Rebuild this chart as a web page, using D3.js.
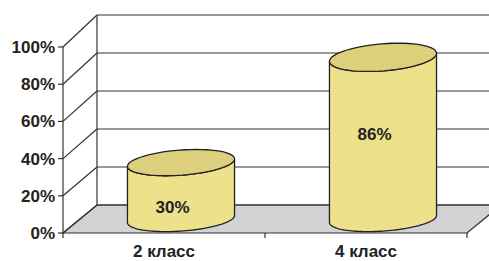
<!DOCTYPE html>
<html>
<head>
<meta charset="utf-8">
<script src="https://cdn.jsdelivr.net/npm/d3@7"></script>
<style>
  body { margin: 0; background: #fff; }
  text { font-family: Arial, "Liberation Sans", sans-serif; font-weight: bold; fill: #222; }
</style>
</head>
<body>
<div id="chart"></div>
<script>
// data
var categories = ["2 класс", "4 класс"];
var values = [30, 86];
var valueLabels = ["30%", "86%"];
var tickValues = [0, 20, 40, 60, 80, 100];
var tickLabels = ["0%", "20%", "40%", "60%", "80%", "100%"];

function init() {
    var w = 489;
    var h = 261;

    // depth offset of the back wall
    var depthX = 34;

    var scaleX = d3.scaleBand()
        .domain(categories)
        .range([63, 467]);

    var yFront = d3.scaleLinear().domain([0, 100]).range([233, 47]);
    var yBack = d3.scaleLinear().domain([0, 100]).range([205, 15]);

    // project a point: x on front plane, value, depth z (0 front .. 1 back)
    function px(x, z) { return x + z * depthX; }
    function py(v, z) { return yFront(v) * (1 - z) + yBack(v) * z; }

    var svg = d3.select("#chart")
        .append("svg")
        .attr("width", w)
        .attr("height", h);

    var line = "#333";

    // floor
    var x0 = scaleX.range()[0], x1 = scaleX.range()[1];
    svg.append("path")
        .attr("d", "M" + px(x0, 0) + "," + py(0, 0) +
            "L" + px(x1, 0) + "," + py(0, 0) +
            "L" + px(x1, 1) + "," + py(0, 1) +
            "L" + px(x0, 1) + "," + py(0, 1) + "Z")
        .attr("fill", "#d3d3d5")
        .attr("stroke", line)
        .attr("stroke-width", 1.2);

    // back wall gridlines
    svg.selectAll("line.grid")
        .data(tickValues)
        .enter()
        .append("line")
        .attr("class", "grid")
        .attr("x1", px(x0, 1))
        .attr("x2", px(x1, 1))
        .attr("y1", function (d) { return py(d, 1); })
        .attr("y2", function (d) { return py(d, 1); })
        .attr("stroke", line)
        .attr("stroke-width", 1.2);

    // side wall diagonals
    svg.selectAll("line.diag")
        .data(tickValues)
        .enter()
        .append("line")
        .attr("class", "diag")
        .attr("x1", px(x0, 0))
        .attr("x2", px(x0, 1))
        .attr("y1", function (d) { return py(d, 0); })
        .attr("y2", function (d) { return py(d, 1); })
        .attr("stroke", line)
        .attr("stroke-width", 1.2);

    // back wall left edge
    svg.append("line")
        .attr("x1", px(x0, 1)).attr("x2", px(x0, 1))
        .attr("y1", py(0, 1)).attr("y2", py(100, 1))
        .attr("stroke", line).attr("stroke-width", 1.2);

    // front value axis
    svg.append("line")
        .attr("x1", x0).attr("x2", x0)
        .attr("y1", yFront(0)).attr("y2", yFront(100))
        .attr("stroke", line).attr("stroke-width", 1.2);

    svg.selectAll("line.ytick")
        .data(tickValues)
        .enter()
        .append("line")
        .attr("class", "ytick")
        .attr("x1", x0 - 5).attr("x2", x0)
        .attr("y1", function (d) { return yFront(d); })
        .attr("y2", function (d) { return yFront(d); })
        .attr("stroke", line).attr("stroke-width", 1.2);

    svg.selectAll("text.ylab")
        .data(tickValues)
        .enter()
        .append("text")
        .attr("class", "ylab")
        .text(function (d, i) { return tickLabels[i]; })
        .attr("x", x0 - 8)
        .attr("y", function (d) { return yFront(d); })
        .attr("dy", "0.35em")
        .attr("text-anchor", "end")
        .attr("font-size", 17);

    // category ticks
    var xTicks = [x0].concat(categories.map(function (c) { return scaleX(c) + scaleX.bandwidth(); }));
    svg.selectAll("line.xtick")
        .data(xTicks)
        .enter()
        .append("line")
        .attr("class", "xtick")
        .attr("x1", function (d) { return d; })
        .attr("x2", function (d) { return d; })
        .attr("y1", yFront(0)).attr("y2", yFront(0) + 5)
        .attr("stroke", line).attr("stroke-width", 1.2);

    svg.selectAll("text.xlab")
        .data(categories)
        .enter()
        .append("text")
        .attr("class", "xlab")
        .text(function (d) { return d; })
        .attr("x", function (d) { return scaleX(d) + scaleX.bandwidth() / 2; })
        .attr("y", 257)
        .attr("text-anchor", "middle")
        .attr("font-size", 17);

    // cylinders
    var d = 0.45;
    var r = scaleX.bandwidth() * 0.254;
    var tR = Math.atan(depthX * d / r);

    function pt(cx, v, t) {
        var z = 0.5 + d * Math.sin(t);
        return [px(cx + r * Math.cos(t), z), py(v, z)];
    }
    function arc(cx, v, a, b) {
        var pts = [];
        var n = 60;
        for (var k = 0; k <= n; k++) {
            pts.push(pt(cx, v, a + (b - a) * k / n));
        }
        return pts;
    }

    var lineGen = d3.line();

    var cyl = svg.selectAll("g.cyl")
        .data(values)
        .enter()
        .append("g")
        .attr("class", "cyl");

    cyl.append("path")
        .attr("d", function (v, i) {
            var cx = scaleX(categories[i]) + scaleX.bandwidth() / 2;
            var bottom = arc(cx, 0, Math.PI + tR, 2 * Math.PI + tR);
            var top = arc(cx, v, 2 * Math.PI + tR, Math.PI + tR);
            return lineGen(bottom.concat(top)) + "Z";
        })
        .attr("fill", "#eee18c")
        .attr("stroke", "#222")
        .attr("stroke-width", 1.3);

    cyl.append("path")
        .attr("d", function (v, i) {
            var cx = scaleX(categories[i]) + scaleX.bandwidth() / 2;
            return lineGen(arc(cx, v, 0, 2 * Math.PI)) + "Z";
        })
        .attr("fill", "#ddd07c")
        .attr("stroke", "#222")
        .attr("stroke-width", 1.3);

    cyl.append("text")
        .text(function (v, i) { return valueLabels[i]; })
        .attr("x", function (v, i) { return px(scaleX(categories[i]) + scaleX.bandwidth() / 2, 0.25); })
        .attr("y", function (v) { return yFront(v * 0.7 - 7); })
        .attr("dy", "0.35em")
        .attr("text-anchor", "middle")
        .attr("font-size", 17);
}

window.onload = init;
</script>
</body>
</html>
